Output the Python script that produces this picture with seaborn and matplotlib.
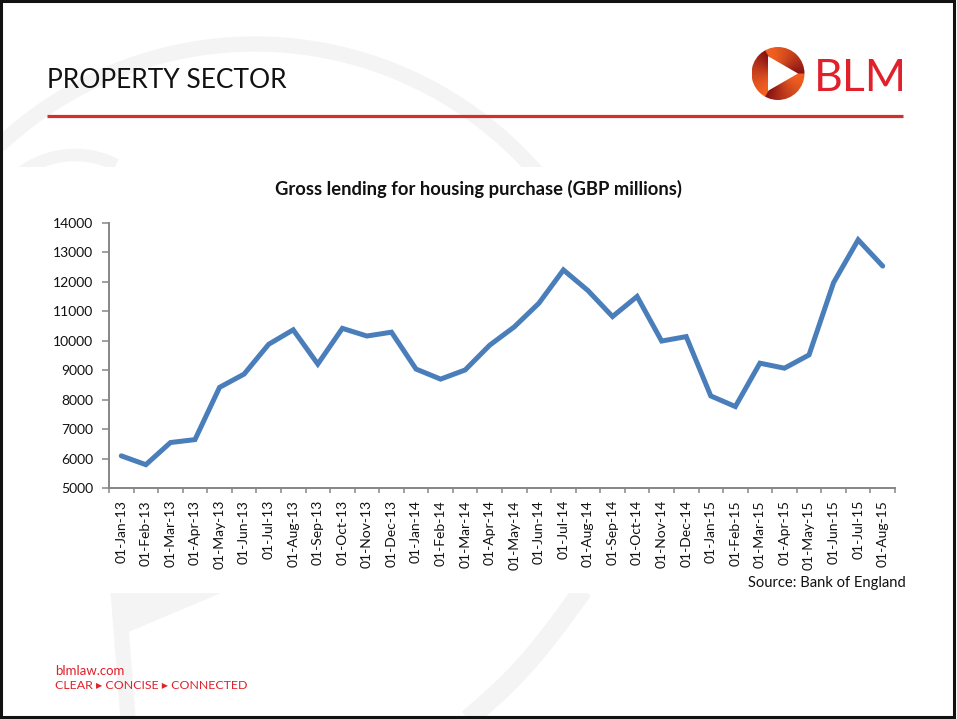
import matplotlib
matplotlib.use("Agg")
import matplotlib.pyplot as plt
import seaborn as sns
import numpy as np
import pandas as pd
from matplotlib.patches import Circle, Polygon, Rectangle

# ---------------- data ----------------
months = ["01-Jan-13", "01-Feb-13", "01-Mar-13", "01-Apr-13", "01-May-13", "01-Jun-13",
          "01-Jul-13", "01-Aug-13", "01-Sep-13", "01-Oct-13", "01-Nov-13", "01-Dec-13",
          "01-Jan-14", "01-Feb-14", "01-Mar-14", "01-Apr-14", "01-May-14", "01-Jun-14",
          "01-Jul-14", "01-Aug-14", "01-Sep-14", "01-Oct-14", "01-Nov-14", "01-Dec-14",
          "01-Jan-15", "01-Feb-15", "01-Mar-15", "01-Apr-15", "01-May-15", "01-Jun-15",
          "01-Jul-15", "01-Aug-15"]
lending = [6100, 5800, 6550, 6650, 8420, 8870, 9880, 10370, 9210, 10420, 10160, 10290,
           9040, 8700, 9010, 9850, 10470, 11270, 12400, 11700, 10820, 11500, 9990, 10140,
           8130, 7770, 9240, 9070, 9520, 11970, 13420, 12530]
y_ticks = [5000, 6000, 7000, 8000, 9000, 10000, 11000, 12000, 13000, 14000]

chart_title = "Gross lending for housing purchase (GBP millions)"
header = "PROPERTY SECTOR"
source = "Source: Bank of England"

# ---------------- style ----------------
sns.set_style("white")
plt.rcParams["font.family"] = ["Lato", "DejaVu Sans"]

W, H = 957, 719
fig = plt.figure(figsize=(W / 100, H / 100), dpi=100)
fig.patch.set_facecolor("white")

# background / decoration axes in pixel coordinates
bg = fig.add_axes([0, 0, 1, 1])
bg.set_xlim(0, W)
bg.set_ylim(H, 0)
bg.axis("off")

wm = "#f4f4f4"
# big watermark arc
t = np.linspace(np.pi, 0, 300)
bg.plot(255 + 373 * np.cos(t), 417 - 373 * np.sin(t), color=wm, lw=11, solid_capstyle="butt", zorder=1)
# small arc on left
t2 = np.linspace(np.pi * 0.9, np.pi * 0.35, 100)
bg.plot(75 + 90 * np.cos(t2), 245 - 90 * np.sin(t2), color=wm, lw=9, solid_capstyle="butt", zorder=1)
# lower watermark pieces
bg.plot([118, 128], [590, 719], color=wm, lw=11, solid_capstyle="butt", zorder=1)
bg.add_patch(Polygon([(124, 590), (228, 590), (124, 634)], closed=True, fc=wm, ec="none", zorder=1))
tb = np.linspace(0, 1, 50)
bg.plot(468 + 115 * tb, 719 - 129 * tb + 10 * np.sin(np.pi * tb), color=wm, lw=14,
        solid_capstyle="butt", zorder=1)

# white chart panel hiding the watermark
bg.add_patch(Rectangle((3, 167), 950, 426, fc="white", ec="none", zorder=2))

# frame
bg.add_patch(Rectangle((1.2, 1.2), 952.6, 715.6, fc="none", ec="#111111", lw=2.2, zorder=10))

# header
bg.text(47, 88, header, fontsize=19, color="#111111", va="baseline", ha="left", zorder=5)
bg.plot([47, 903], [116, 116], color="#d3302c", lw=2.3, solid_capstyle="butt", zorder=5)

# logo
cx, cy, r = 778, 73.5, 26.5
n = 240
xs = np.linspace(cx - r, cx + r, n)
ys = np.linspace(cy - r, cy + r, n)
X, Y = np.meshgrid(xs, ys)
theta = np.degrees(np.arctan2(-(Y - cy), X - cx))
s = np.mod(-theta, 120) / 120
s = s ** 1.5
c0 = np.array([0.95, 0.38, 0.13])
c1 = np.array([0.52, 0.06, 0.08])
img = c0[None, None, :] * (1 - s[..., None]) + c1[None, None, :] * s[..., None]
im = bg.imshow(img, extent=(cx - r, cx + r, cy + r, cy - r), origin="upper",
               interpolation="bilinear", zorder=5, aspect="auto")
circ = Circle((cx, cy), r, transform=bg.transData)
im.set_clip_path(circ)
bg.add_patch(Polygon([(cx + 20, cy), (cx - 10, cy - 17.3), (cx - 10, cy + 17.3)],
                     closed=True, fc="white", ec="none", zorder=6))
bg.set_xlim(0, W)
bg.set_ylim(H, 0)
bg.text(814, 91, "BLM", fontsize=32, color="#e0202a", va="baseline", ha="left", zorder=5)

# chart title
bg.text(478.5, 195, chart_title, fontsize=13.2, fontweight="bold", color="#111111",
        ha="center", va="baseline", zorder=5)
# source
bg.text(906, 587, source, fontsize=10.6, color="#111111", ha="right", va="baseline", zorder=5)

# footer
red = "#e0202a"
bg.text(55, 675, "blmlaw.com", fontsize=9.5, color=red, ha="left", va="baseline", zorder=5)
bg.text(55, 689, "CLEAR \u25B8 CONCISE \u25B8 CONNECTED", fontsize=8.9, color=red,
        ha="left", va="baseline", zorder=5)

# ---------------- chart ----------------
left, right_px, top_px, bottom_px = 109, 895, 222.7, 488.3
ax = fig.add_axes([left / W, 1 - bottom_px / H, (right_px - left) / W, (bottom_px - top_px) / H])
ax.set_facecolor("none")
ax.set_zorder(3)

df = pd.DataFrame({"idx": np.arange(len(months)), "value": lending})
sns.lineplot(data=df, x="idx", y="value", ax=ax, color="#4a7ebb", lw=3.6, legend=False)
ax.lines[0].set_solid_joinstyle("miter")

ax.set_xlim(-0.5, len(months) - 0.5)
ax.set_ylim(5000, 14000)
ax.set_yticks(y_ticks)
ax.set_yticklabels([str(v) for v in y_ticks], fontsize=10, color="#111111")
ax.set_xticks(np.arange(len(months)))
ax.set_xticklabels(months, rotation=90, fontsize=10, color="#111111")
ax.set_xticks(np.arange(len(months) + 1) - 0.5, minor=True)
ax.set_xlabel("")
ax.set_ylabel("")

gray = "#868686"
for sp in ["top", "right"]:
    ax.spines[sp].set_visible(False)
for sp in ["left", "bottom"]:
    ax.spines[sp].set_color(gray)
    ax.spines[sp].set_linewidth(1.4)
ax.tick_params(axis="y", which="major", direction="out", length=5, width=1.1, color=gray, pad=6.5, left=True)
ax.tick_params(axis="x", which="major", length=0, pad=8.5, bottom=True)
ax.tick_params(axis="x", which="minor", direction="out", length=3.6, width=1.1, color=gray, bottom=True)
ax.grid(False)

fig.savefig("out.png", dpi=100, facecolor="white")
